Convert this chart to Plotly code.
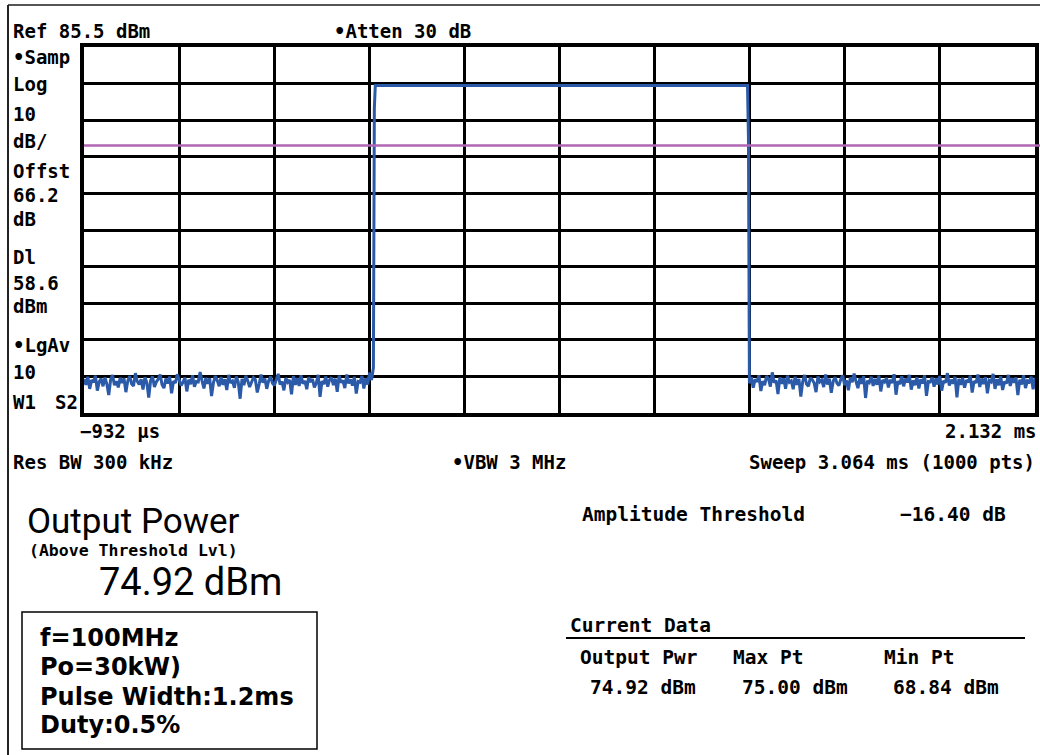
import numpy as np
import plotly.graph_objects as go

# ---- sweep setup ----
sweep_start_ms = -0.932
sweep_stop_ms = 2.132
sweep_points = 1000
ref_level_dbm = 85.5
db_per_div = 10
display_line_dbm = 58.6

# off-pulse noise floor, left of the pulse (every other sweep point, idx 0..302)
noise_left_dbm = [
    -5.2, -6.8, -4.6, -7.9, -5.5, -6.1, -4.3, -8.4, -6.0, -5.1,
    -7.2, -4.8, -6.6, -9.6, -5.4, -4.1, -6.9, -5.8, -7.5, -4.9,
    -6.3, -5.0, -8.8, -5.7, -4.4, -6.5, -7.1, -3.6, -5.9, -6.7,
    -5.3, -8.1, -4.7, -6.2, -10.3, -5.6, -4.5, -7.4, -6.0, -5.2,
    -4.0, -6.8, -7.7, -5.1, -6.4, -4.6, -9.1, -5.8, -6.3, -3.9,
    -5.5, -7.0, -6.1, -4.8, -8.6, -5.4, -6.6, -4.2, -7.3, -5.9,
    -6.0, -3.3, -5.7, -7.8, -4.9, -6.5, -5.0, -9.9, -6.2, -4.4,
    -5.6, -7.2, -4.7, -6.8, -5.3, -8.2, -4.1, -6.3, -5.8, -7.6,
    -4.5, -6.0, -10.6, -5.2, -6.9, -4.3, -5.7, -7.4, -6.1, -4.8,
    -5.4, -8.9, -6.6, -4.0, -6.2, -5.1, -7.9, -5.6, -4.6, -6.4,
    -7.0, -5.3, -3.8, -6.7, -5.9, -8.3, -4.9, -6.1, -5.5, -9.4,
    -4.4, -6.8, -5.0, -7.1, -4.2, -6.5, -5.7, -8.0, -4.7, -6.0,
    -5.2, -7.5, -6.3, -4.1, -10.1, -5.8, -6.6, -4.5, -7.3, -5.4,
    -4.8, -6.9, -5.1, -8.7, -4.3, -6.2, -5.6, -7.7, -4.0, -6.4,
    -5.3, -7.0, -4.6, -9.2, -5.9, -6.1, -4.4, -7.8, -5.0, -6.7,
    -3.5, -5.5,
]

# pulse edges and plateau (sweep point index, level in dBm)
pulse_idx = [304, 305, 306, 697, 698]
pulse_dbm = [-2.2, 68.84, 75.0, 75.0, 60.5]

# off-pulse noise floor, right of the pulse (every other sweep point, idx 699..999)
noise_right_dbm = [
    -6.4, -4.7, -7.6, -5.3, -6.0, -4.2, -8.5, -5.8, -6.9, -4.4,
    -5.1, -7.3, -3.4, -6.2, -5.6, -9.3, -4.8, -6.5, -5.0, -7.9,
    -4.3, -6.1, -5.7, -8.0, -4.6, -6.8, -5.2, -10.0, -5.9, -4.1,
    -6.6, -7.2, -4.9, -5.4, -6.3, -8.8, -4.5, -6.0, -5.5, -7.4,
    -4.0, -6.7, -5.1, -9.0, -5.8, -4.7, -6.4, -7.0, -5.3, -4.2,
    -6.9, -5.6, -8.3, -4.8, -6.1, -3.7, -5.9, -7.7, -5.0, -6.5,
    -4.4, -10.4, -5.7, -6.2, -4.6, -7.1, -5.2, -6.8, -4.3, -8.6,
    -5.5, -6.0, -4.9, -7.5, -5.4, -6.3, -3.9, -9.5, -5.8, -6.6,
    -4.5, -7.2, -5.1, -6.1, -4.1, -8.1, -5.6, -6.9, -4.7, -7.8,
    -5.3, -6.4, -4.2, -9.8, -5.9, -6.0, -4.8, -7.3, -5.0, -6.7,
    -4.4, -8.4, -5.7, -6.2, -3.6, -7.0, -5.4, -6.5, -4.6, -10.2,
    -5.2, -6.8, -4.9, -7.6, -5.5, -6.1, -4.3, -8.9, -5.8, -6.3,
    -4.0, -7.4, -5.1, -6.6, -4.7, -9.1, -5.6, -6.0, -3.8, -7.9,
    -5.3, -6.9, -4.5, -8.2, -5.9, -6.4, -4.1, -7.1, -5.0, -6.2,
    -4.8, -9.6, -5.4, -6.7, -4.2, -7.7, -5.7, -6.0, -4.6, -8.0,
    -4.9,
]

# ---- assemble the trace on the sweep time axis ----
step_ms = (sweep_stop_ms - sweep_start_ms) / (sweep_points - 1)
idx = np.concatenate([
    np.arange(0, 2 * len(noise_left_dbm), 2),
    np.array(pulse_idx),
    699 + np.arange(0, 2 * len(noise_right_dbm), 2),
])
level = np.concatenate([noise_left_dbm, pulse_dbm, noise_right_dbm])
t_ms = sweep_start_ms + idx * step_ms

W, H = 1040, 755
PX_L, PX_R, PY_T, PY_B = 84, 1035, 47, 413

fig = go.Figure()
fig.add_trace(go.Scatter(
    x=t_ms, y=level, mode="lines",
    line=dict(color="#2b5aa8", width=3),
    hoverinfo="skip", showlegend=False,
))

y_bottom = ref_level_dbm - 10 * db_per_div
fig.update_xaxes(
    domain=[PX_L / W, PX_R / W],
    range=[sweep_start_ms, sweep_stop_ms],
    tick0=sweep_start_ms, dtick=(sweep_stop_ms - sweep_start_ms) / 10,
    showgrid=True, gridcolor="black", gridwidth=2.8,
    showticklabels=False, ticks="", zeroline=False,
    showline=True, mirror=True, linecolor="black", linewidth=3.5,
)
fig.update_yaxes(
    domain=[1 - PY_B / H, 1 - PY_T / H],
    range=[y_bottom, ref_level_dbm],
    tick0=y_bottom, dtick=db_per_div,
    showgrid=True, gridcolor="black", gridwidth=2.8,
    showticklabels=False, ticks="", zeroline=False,
    showline=True, mirror=True, linecolor="black", linewidth=3.5,
)

shapes = [
    # display line
    dict(type="line", xref="paper", yref="y", x0=PX_L / W, x1=1.0,
         y0=display_line_dbm, y1=display_line_dbm,
         line=dict(color="#b066b3", width=2.6)),
    # outer frame (top and left)
    dict(type="line", xref="paper", yref="paper", x0=8 / W, x1=1.0,
         y0=1 - 5 / H, y1=1 - 5 / H, line=dict(color="#555555", width=2)),
    dict(type="line", xref="paper", yref="paper", x0=8 / W, x1=8 / W,
         y0=0, y1=1 - 5 / H, line=dict(color="#222222", width=2)),
    # underline for "Current Data"
    dict(type="line", xref="paper", yref="paper", x0=566 / W, x1=1025 / W,
         y0=1 - 638 / H, y1=1 - 638 / H, line=dict(color="black", width=2)),
    # test conditions box
    dict(type="rect", xref="paper", yref="paper", x0=22 / W, x1=317 / W,
         y0=1 - 749 / H, y1=1 - 612 / H, line=dict(color="black", width=1.5)),
]

MONO = "DejaVu Sans Mono"
annotations = []


def label(px, py, text, size=19, family=MONO, anchor="left", bold=True, color="black"):
    annotations.append(dict(
        xref="paper", yref="paper", x=px / W, y=1 - py / H,
        text=f"<b>{text}</b>" if bold else text,
        showarrow=False, xanchor=anchor, yanchor="middle",
        font=dict(family=family, size=size, color=color),
        borderpad=0,
    ))


# header and left-hand settings column
label(12, 31, "Ref 85.5 dBm")
label(333, 31, "•Atten 30 dB")
left_col = [("•Samp", 57), ("Log", 84), ("10", 114), ("dB/", 141),
            ("Offst", 171), ("66.2", 195), ("dB", 219),
            ("Dl", 257), ("58.6", 283), ("dBm", 306),
            ("•LgAv", 345), ("10", 372)]
for txt, py in left_col:
    label(12, py, txt)
label(12, 402, "W1")
label(54, 402, "S2")

# sweep limits and bandwidth settings
label(79, 431, "−932 µs")
label(1038, 431, "2.132 ms", anchor="right")
label(12, 462, "Res BW 300 kHz")
label(451, 462, "•VBW 3 MHz")
label(1036, 462, "Sweep 3.064 ms (1000 pts)", anchor="right")

# measurement result
label(26, 521, "Output Power", size=35, family="Roboto", bold=False)
label(28, 550, "(Above Threshold Lvl)", size=16.5)
label(98, 582, "74.92 dBm", size=38, family="Roboto", bold=False)

label(581, 514, "Amplitude Threshold", size=19.5)
label(1007, 514, "−16.40 dB", size=19.5, anchor="right")

label(569, 625, "Current Data", size=19.5)
label(579, 657, "Output Pwr", size=19.5)
label(732, 657, "Max Pt", size=19.5)
label(883, 657, "Min Pt", size=19.5)
label(589, 687, "74.92 dBm", size=19.5)
label(741, 687, "75.00 dBm", size=19.5)
label(892, 687, "68.84 dBm", size=19.5)

# test conditions
for txt, py in [("f=100MHz", 638), ("Po=30kW)", 667),
                ("Pulse Width:1.2ms", 697), ("Duty:0.5%", 725)]:
    label(39, py, txt, size=24, family="DejaVu Sans")

fig.update_layout(
    width=W, height=H,
    margin=dict(l=0, r=0, t=0, b=0),
    paper_bgcolor="white", plot_bgcolor="white",
    shapes=shapes, annotations=annotations,
    showlegend=False,
)

fig.write_html("out.html")
